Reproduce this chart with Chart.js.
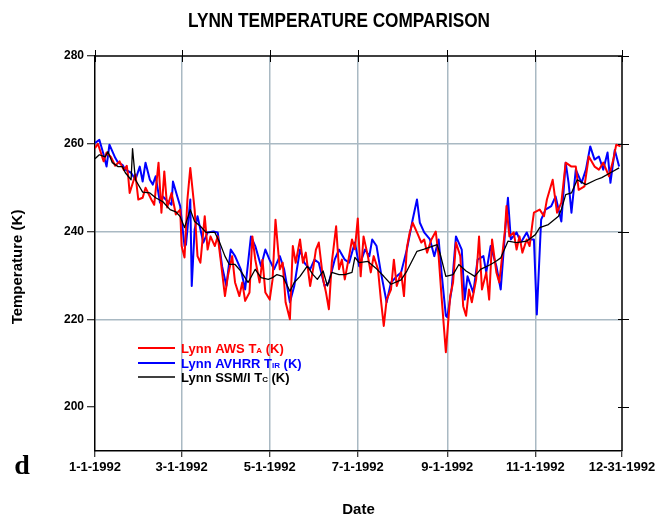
<!DOCTYPE html>
<html>
<head>
<meta charset="utf-8">
<title>Lynn Temperature Comparison</title>
<script src="https://cdn.jsdelivr.net/npm/chart.js@4.4.1/dist/chart.umd.min.js"></script>
<style>
  html, body { margin: 0; padding: 0; background: #fff; }
</style>
</head>
<body>
<canvas id="myChart" width="667" height="520"></canvas>
<script>
// x axis ticks (day of year 1992, 0 = Jan 1)
const tickDays = [0, 60, 121, 182, 244, 305, 365];
const tickLabels = ['1-1-1992', '3-1-1992', '5-1-1992', '7-1-1992', '9-1-1992', '11-1-1992', '12-31-1992'];
const tempTicks = [200, 220, 240, 260, 280];

// Lynn AWS TA (K)
const awsDays = [
  0, 2, 4, 6, 8, 11, 14, 17, 20, 22,
  23, 24, 28, 30, 33, 35, 39, 41, 44, 46,
  48, 50, 53, 56, 59, 60, 62, 64, 66, 69,
  71, 73, 76, 78, 80, 83, 85, 87, 90, 92,
  95, 97, 100, 102, 104, 107, 109, 111, 114, 116,
  118, 121, 123, 125, 128, 130, 132, 135, 137, 139,
  142, 144, 146, 149, 151, 153, 155, 158, 160, 162,
  164, 167, 169, 171, 173, 176, 178, 180, 182, 184,
  186, 189, 191, 193, 196, 198, 200, 202, 205, 207,
  209, 212, 214, 216, 218, 220, 223, 226, 228, 230,
  233, 236, 238, 240, 243, 246, 248, 250, 253, 255,
  257, 259, 261, 264, 266, 268, 271, 273, 275, 278,
  280, 282, 284, 285, 287, 290, 292, 294, 296, 299,
  301, 303, 304, 308, 311, 313, 317, 320, 323, 326,
  330, 333, 335, 339, 342, 346, 349, 352, 356, 359,
  361, 364
];
const awsTemp = [
  259, 260, 258, 256, 258, 257, 255, 256, 254, 255,
  252.6, 248.8, 253, 247.3, 247.7, 250, 247.3, 246.1, 255.7, 244.3,
  253.7, 245.5, 248.8, 243.9, 245, 236.7, 234.1, 247.3, 254.5, 245,
  234.4, 232.9, 243.5, 235.9, 238.9, 236.7, 238.9, 233.6, 225.3, 229.8,
  234.4, 228.4, 225.3, 228.4, 224.2, 226.1, 238.9, 233.6, 228.4, 233.6,
  226.1, 224.5, 229.1, 242.7, 231.4, 232.9, 223.9, 220, 236.7, 232.9,
  238.2, 232.9, 235.2, 227.6, 231.4, 235.9, 237.5, 229.1, 226.1, 222.3,
  232.9, 241.2, 231.4, 233.6, 229.1, 234.4, 238.2, 236, 243, 229.8,
  238.9, 234.4, 230.7, 234.4, 231.4, 224.5, 218.5, 224.5, 226.8, 233.6,
  227.6, 230.7, 225.3, 236.3, 239.8, 242, 239.8, 237.5, 238.2, 235.2,
  238.2, 240, 234.4, 225.3, 212.5, 225.3, 228.4, 237.5, 234.4, 223,
  220.8, 226.8, 223.9, 229.1, 238.9, 226.8, 230.7, 224.5, 238.2, 230.7,
  228.4, 234.4, 240.5, 245.8, 238.9, 239.8, 235.9, 238.9, 235.2, 238.2,
  236.7, 242, 244.3, 245, 243.5, 247.3, 251.8, 244.3, 246.6, 255.7,
  254.8, 254.8, 249.5, 250.3, 257.1, 254.8, 254.1, 255.7, 252.6, 256.4,
  259.8, 259.4
];

// Lynn AVHRR TIR (K)
const avhrrDays = [
  0, 3, 6, 8, 10, 14, 16, 19, 21, 25,
  28, 31, 33, 35, 38, 40, 42, 45, 47, 49,
  53, 54, 57, 59, 62, 63, 66, 67, 69, 71,
  75, 78, 82, 85, 88, 91, 94, 97, 101, 104,
  108, 111, 115, 118, 121, 124, 128, 131, 135, 138,
  142, 145, 149, 152, 155, 159, 162, 166, 169, 173,
  176, 180, 183, 187, 190, 192, 195, 198, 202, 205,
  209, 212, 216, 220, 223, 225, 228, 232, 235, 238,
  240, 243, 244, 247, 250, 254, 256, 258, 262, 265,
  269, 271, 274, 278, 281, 284, 286, 288, 292, 295,
  299, 301, 304, 306, 309, 312, 316, 319, 323, 326,
  328, 330, 333, 337, 340, 343, 346, 349, 352, 355,
  357, 360, 363
];
const avhrrTemp = [
  260.2, 260.9, 257.5, 254.8, 259.8, 256.8, 255.7, 255.2, 254.1, 253.4,
  251.8, 254.8, 251.4, 255.7, 251.8, 250.7, 252.6, 246.6, 248, 247.3,
  246.1, 251.4, 248, 245.8, 236.7, 237, 247.3, 227.6, 240.5, 243.5,
  237.5, 239.8, 240, 239.8, 232.1, 227.6, 235.9, 234.4, 231.4, 226.8,
  238.9, 236.7, 232.1, 235.9, 233.5, 231.4, 234.4, 231.4, 223.9, 227.6,
  235.9, 232.9, 231.4, 233.6, 232.9, 227.6, 228.4, 233.6, 235.9, 233.6,
  232.9, 237.5, 232.1, 235.9, 234.4, 238.2, 236.7, 230.7, 223.9, 228.4,
  229.8, 230.7, 235.9, 242.7, 247.3, 242, 239.8, 238.2, 234.4, 238.2,
  230.7, 220.8, 220.5, 226.8, 238.9, 235.9, 224.5, 229.8, 226.1, 233.6,
  234.4, 230.7, 236.7, 232.1, 226.8, 239.8, 247.7, 238.2, 239.8, 237.5,
  239.8, 238.2, 238.2, 221.1, 242.7, 245, 245.8, 248, 242.3, 255.7,
  251.1, 244.3, 254.1, 251.1, 254.1, 259.4, 256.4, 257.1, 254.1, 258,
  251.1, 258.6, 254.8
];

// Lynn SSM/I TC (K)
const ssmiDays = [
  0, 3, 7, 9, 12, 16, 19, 21, 25, 26,
  28, 33, 38, 42, 47, 52, 56, 59, 62, 66,
  69, 73, 77, 83, 86, 90, 93, 97, 101, 106,
  111, 115, 120, 123, 126, 130, 135, 138, 142, 147,
  151, 154, 158, 161, 164, 169, 173, 178, 180, 183,
  189, 195, 200, 205, 212, 216, 223, 228, 237, 239,
  243, 248, 252, 257, 263, 267, 274, 278, 281, 286,
  292, 299, 305, 308, 314, 321, 323, 326, 330, 334,
  340, 347, 351, 357, 363
];
const ssmiTemp = [
  256.6, 257.5, 257, 258.2, 255.7, 254.8, 254.8, 253.4, 251.8, 258.9,
  251.8, 249, 248.8, 247.7, 246.8, 245, 244.5, 243.4, 240.9, 245,
  242.3, 241.2, 239.8, 239.8, 237.8, 234.4, 232.5, 232.5, 231, 228.4,
  231.4, 229.5, 229.1, 229.5, 230.2, 229.8, 226.4, 228.4, 229.8, 232.1,
  230.2, 229.1, 231, 227.6, 230.7, 230.2, 230.2, 230.7, 234.1, 232.9,
  233.2, 231.5, 229.8, 228, 229, 231, 235.5, 236, 237, 235,
  229.8, 230.2, 232.5, 231, 229.8, 231.4, 232.5, 233.3, 234, 237.8,
  237.5, 237.8, 239.3, 240.9, 241.6, 243.5, 245, 248.4, 248.8, 251.8,
  250.7, 251.8, 252.3, 253.4, 254.5
];

const RED = '#ff0000';
const BLUE = '#0000ff';
const GRID = '#a9b9c3';
const FONT = '"Liberation Sans", Arial, sans-serif';

function toPoints(days, temps) {
  return days.map((d, i) => ({ x: d, y: temps[i] }));
}

// legend row with a subscripted label
function legendRow(ctx, y, color, lw, parts) {
  ctx.save();
  ctx.strokeStyle = color;
  ctx.lineWidth = lw;
  ctx.beginPath();
  ctx.moveTo(138, y);
  ctx.lineTo(175, y);
  ctx.stroke();
  ctx.fillStyle = color;
  ctx.textBaseline = 'alphabetic';
  let x = 181;
  parts.forEach(p => {
    ctx.font = p.sub ? 'bold 8px ' + FONT : 'bold 13px ' + FONT;
    ctx.fillText(p.t, x, y + 5);
    x += ctx.measureText(p.t).width;
  });
  ctx.restore();
}

const decor = {
  id: 'decor',
  afterDraw(chart) {
    const ctx = chart.ctx;
    const a = chart.chartArea;
    const xs = chart.scales.x, ys = chart.scales.y;
    ctx.save();

    // top and right frame with tick marks
    ctx.strokeStyle = '#000';
    ctx.lineWidth = 1.5;
    ctx.beginPath();
    ctx.moveTo(a.left, a.top);
    ctx.lineTo(a.right, a.top);
    ctx.lineTo(a.right, a.bottom);
    ctx.stroke();
    ctx.lineWidth = 1;
    ctx.beginPath();
    tickDays.forEach(d => {
      const px = Math.round(xs.getPixelForValue(d)) + 0.5;
      ctx.moveTo(px, a.top - 6);
      ctx.lineTo(px, a.top + 6);
    });
    tempTicks.forEach(t => {
      const py = Math.round(ys.getPixelForValue(t)) + 0.5;
      ctx.moveTo(a.right - 4, py);
      ctx.lineTo(a.right + 7, py);
    });
    ctx.stroke();

    // title
    ctx.fillStyle = '#000';
    ctx.textAlign = 'center';
    ctx.textBaseline = 'middle';
    ctx.font = 'bold 20px ' + FONT;
    const title = 'LYNN TEMPERATURE COMPARISON';
    const w = ctx.measureText(title).width;
    ctx.save();
    ctx.translate(339, 21);
    ctx.scale(302 / w, 1);
    ctx.fillText(title, 0, 0);
    ctx.restore();

    // axis titles
    ctx.font = 'bold 15px ' + FONT;
    ctx.fillText('Date', (a.left + a.right) / 2, 510);
    ctx.save();
    ctx.translate(18, 267);
    ctx.rotate(-Math.PI / 2);
    ctx.fillText('Temperature (K)', 0, 0);
    ctx.restore();

    // panel letter
    ctx.font = 'bold 28px "Liberation Serif", "DejaVu Serif", serif';
    ctx.textBaseline = 'alphabetic';
    ctx.fillText('d', 22, 474);

    ctx.restore();

    legendRow(ctx, 348, RED, 2, [{ t: 'Lynn AWS T' }, { t: 'A', sub: true }, { t: ' (K)' }]);
    legendRow(ctx, 363, BLUE, 2, [{ t: 'Lynn AVHRR T' }, { t: 'IR', sub: true }, { t: ' (K)' }]);
    legendRow(ctx, 377, '#000', 1.5, [{ t: 'Lynn SSM/I T' }, { t: 'C', sub: true }, { t: ' (K)' }]);
  }
};

const config = {
  type: 'line',
  data: {
    datasets: [
      {
        label: 'Lynn SSM/I TC (K)',
        data: toPoints(ssmiDays, ssmiTemp),
        borderColor: '#000',
        borderWidth: 1.3,
        order: 0
      },
      {
        label: 'Lynn AWS TA (K)',
        data: toPoints(awsDays, awsTemp),
        borderColor: RED,
        borderWidth: 2,
        order: 1
      },
      {
        label: 'Lynn AVHRR TIR (K)',
        data: toPoints(avhrrDays, avhrrTemp),
        borderColor: BLUE,
        borderWidth: 2,
        order: 2
      }
    ]
  },
  options: {
    responsive: false,
    animation: false,
    layout: { padding: { left: 0, right: 45, top: 56, bottom: 0 } },
    elements: {
      point: { radius: 0 },
      line: { tension: 0, borderJoinStyle: 'round' }
    },
    plugins: {
      legend: { display: false },
      tooltip: { enabled: false }
    },
    scales: {
      x: {
        type: 'linear',
        min: 0,
        max: 365,
        afterBuildTicks: scale => { scale.ticks = tickDays.map(v => ({ value: v })); },
        afterFit: scale => { scale.height = 69; },
        ticks: {
          autoSkip: false,
          maxRotation: 0,
          padding: 3,
          color: '#000',
          font: { family: FONT, size: 13, weight: 'bold' },
          callback: v => tickLabels[tickDays.indexOf(v)]
        },
        grid: {
          color: c => (c.tick && c.tick.value > 0 && c.tick.value < 365) ? GRID : 'rgba(0,0,0,0)',
          lineWidth: 1.5,
          tickColor: '#000',
          tickLength: 6,
          tickWidth: 1
        },
        border: { color: '#000', width: 1.5 }
      },
      y: {
        min: 190,
        max: 280,
        afterBuildTicks: scale => { scale.ticks = tempTicks.map(v => ({ value: v })); },
        afterFit: scale => { scale.width = 95; },
        ticks: {
          padding: 3,
          color: '#000',
          font: { family: FONT, size: 12, weight: 'bold' }
        },
        grid: {
          color: c => (c.tick && c.tick.value > 200 && c.tick.value < 280) ? GRID : 'rgba(0,0,0,0)',
          lineWidth: 1.5,
          tickColor: '#000',
          tickLength: 8,
          tickWidth: 1
        },
        border: { color: '#000', width: 1.5 }
      }
    }
  },
  plugins: [decor]
};

const myChart = new Chart(document.getElementById('myChart'), config);
</script>
</body>
</html>
